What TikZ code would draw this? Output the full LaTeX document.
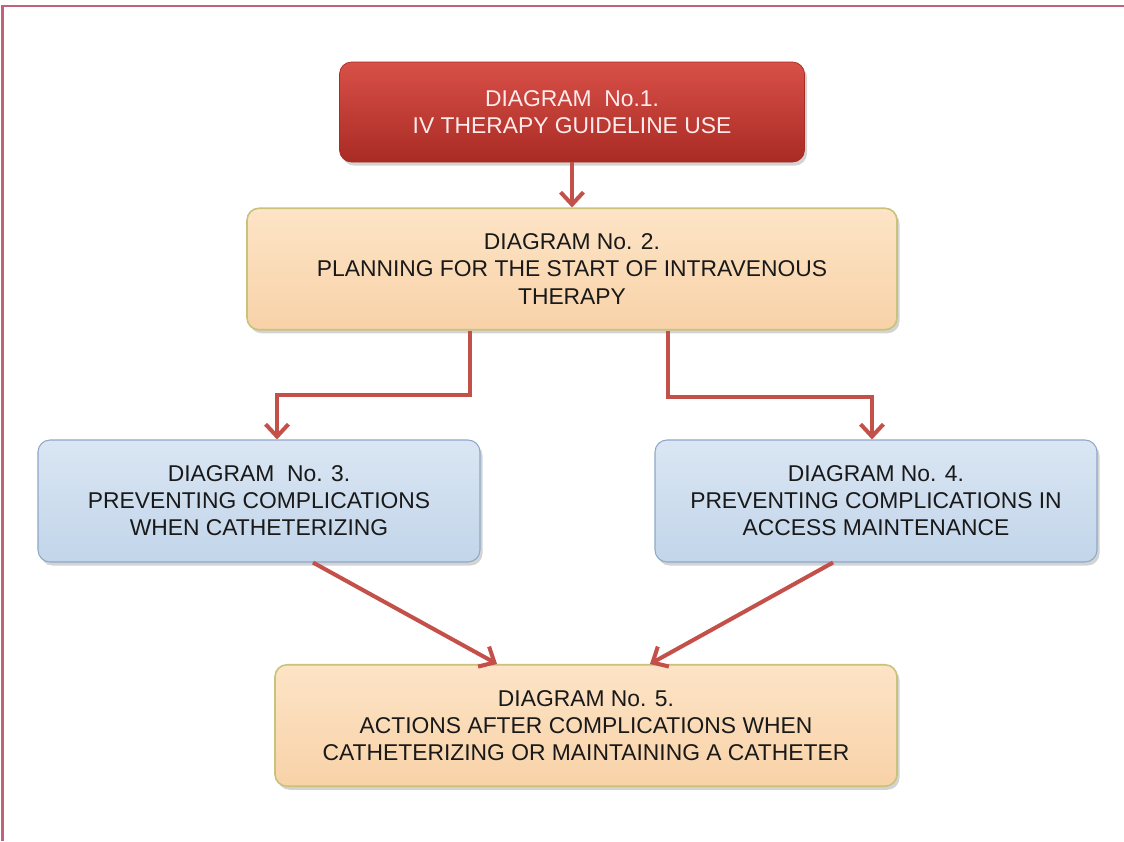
\documentclass[tikz,border=0pt]{standalone}
\usepackage{fontspec}
\setmainfont{Liberation Sans}
\usetikzlibrary{shapes,arrows.meta,shadows}

\definecolor{redbox}{HTML}{C33A32}
\definecolor{redtop}{HTML}{D85048}
\definecolor{redbot}{HTML}{A92B24}
\definecolor{peachtop}{HTML}{FDE4C6}
\definecolor{peachbot}{HTML}{F8D2A8}
\definecolor{peachline}{HTML}{C8C27A}
\definecolor{bluetop}{HTML}{DAE6F3}
\definecolor{bluebot}{HTML}{C2D5EA}
\definecolor{blueline}{HTML}{8DA8C8}
\definecolor{arrowred}{HTML}{C4504A}
\definecolor{framecol}{HTML}{C2617C}

\begin{document}
\begin{tikzpicture}[auto, font=\fontsize{13}{15.4}\selectfont]
				\tikzstyle{block} = [rectangle, draw, text centered, rounded corners=0.24cm, align=center, text=black!90, drop shadow={opacity=0.35, shadow xshift=0.05cm, shadow yshift=-0.07cm}]
				\tikzstyle{redblock} = [block, draw=redbot, top color=redtop, bottom color=redbot, text=red!8, minimum width=9.3cm, minimum height=2.0cm]
				\tikzstyle{peachblock} = [block, draw=peachline, line width=0.9pt, top color=peachtop, bottom color=peachbot, minimum height=2.43cm]
				\tikzstyle{blueblock} = [block, draw=blueline, line width=0.6pt, top color=bluetop, bottom color=bluebot, minimum width=8.84cm, minimum height=2.44cm]
				\tikzstyle{line} = [draw, arrowred, line width=2.3pt, -{Straight Barb[length=7pt, width=13pt, line width=2.3pt]}]

				\useasboundingbox (0,0) rectangle (22.48,-16.82);
				% frame
				\draw [framecol, line width=1.6pt] (0.05,-16.82) -- (0.05,-0.12) -- (22.48,-0.12);

				\node [redblock] (guideline) at (11.44,-2.24) {DIAGRAM\ \ No.1.\\IV THERAPY GUIDELINE USE};
				\node [peachblock, minimum width=13.0cm] (planning) at (11.44,-5.38) {DIAGRAM No. 2.\\PLANNING FOR THE START OF INTRAVENOUS\\THERAPY};
				\node [blueblock] (catheterizing) at (5.18,-10.02) {DIAGRAM\ \ No. 3.\\PREVENTING COMPLICATIONS\\WHEN CATHETERIZING};
				\node [blueblock] (maintenance) at (17.52,-10.02) {DIAGRAM No. 4.\\PREVENTING COMPLICATIONS IN\\ACCESS MAINTENANCE};
				\node [peachblock, minimum width=12.44cm] (actions) at (11.72,-14.51) {DIAGRAM No. 5.\\ACTIONS AFTER COMPLICATIONS WHEN\\CATHETERIZING OR MAINTAINING A CATHETER};

				\path [line] (guideline) -- (planning);
				\path [line] ([xshift=-2.04cm]planning.south) -- ++(0,-1.28) -| ([xshift=0.36cm]catheterizing.north);
				\path [line] ([xshift=1.92cm]planning.south) -- ++(0,-1.32) -| ([xshift=-0.08cm]maintenance.north);
				\path [line] ([xshift=1.08cm]catheterizing.south) -- ([xshift=-1.78cm]actions.north);
				\path [line] ([xshift=-0.86cm]maintenance.south) -- ([xshift=1.28cm]actions.north);

			\end{tikzpicture}
\end{document}
